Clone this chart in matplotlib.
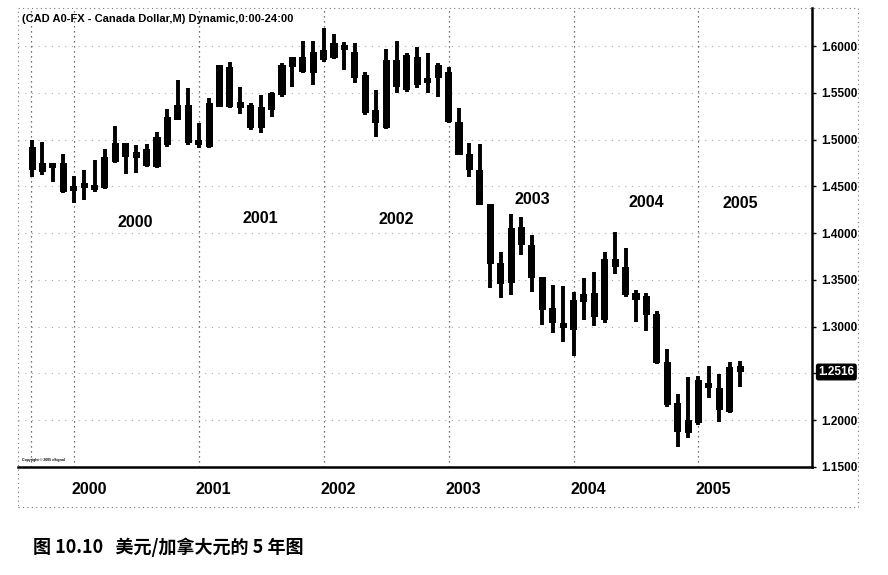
import matplotlib.pyplot as plt
from matplotlib.patches import Rectangle

# Monthly USD/CAD candles, Sep 1999 - May 2005
months = ['1999-09', '1999-10', '1999-11', '1999-12',
          '2000-01', '2000-02', '2000-03', '2000-04', '2000-05', '2000-06',
          '2000-07', '2000-08', '2000-09', '2000-10', '2000-11', '2000-12',
          '2001-01', '2001-02', '2001-03', '2001-04', '2001-05', '2001-06',
          '2001-07', '2001-08', '2001-09', '2001-10', '2001-11', '2001-12',
          '2002-01', '2002-02', '2002-03', '2002-04', '2002-05', '2002-06',
          '2002-07', '2002-08', '2002-09', '2002-10', '2002-11', '2002-12',
          '2003-01', '2003-02', '2003-03', '2003-04', '2003-05', '2003-06',
          '2003-07', '2003-08', '2003-09', '2003-10', '2003-11', '2003-12',
          '2004-01', '2004-02', '2004-03', '2004-04', '2004-05', '2004-06',
          '2004-07', '2004-08', '2004-09', '2004-10', '2004-11', '2004-12',
          '2005-01', '2005-02', '2005-03', '2005-04', '2005-05']
highs = [1.4997, 1.4976, 1.4751, 1.4848, 1.4612, 1.4676, 1.4783, 1.4901, 1.5147, 1.4965,
         1.4944, 1.4954, 1.5083, 1.5329, 1.5639, 1.5553, 1.5179, 1.5446, 1.5799, 1.5831,
         1.5564, 1.5393, 1.5479, 1.5511, 1.5821, 1.5885, 1.6056, 1.6056, 1.6195, 1.6131,
         1.6045, 1.6035, 1.5725, 1.5532, 1.5971, 1.6056, 1.5928, 1.5992, 1.5928, 1.5821,
         1.5778, 1.5339, 1.4965, 1.4954, 1.4313, 1.3799, 1.4206, 1.4174, 1.3981, 1.3532,
         1.3446, 1.3436, 1.3372, 1.3521, 1.3586, 1.3799, 1.4013, 1.3842, 1.3393, 1.3361,
         1.3168, 1.2762, 1.2281, 1.2463, 1.2473, 1.2580, 1.2495, 1.2623, 1.2634]
lows = [1.4602, 1.4623, 1.4548, 1.4430, 1.4323, 1.4356, 1.4441, 1.4473, 1.4751, 1.4634,
        1.4644, 1.4709, 1.4698, 1.4922, 1.5211, 1.4944, 1.4912, 1.4912, 1.5350, 1.5339,
        1.5275, 1.5104, 1.5072, 1.5243, 1.5457, 1.5564, 1.5714, 1.5585, 1.5831, 1.5864,
        1.5746, 1.5607, 1.5265, 1.5029, 1.5115, 1.5500, 1.5511, 1.5553, 1.5500, 1.5457,
        1.5179, 1.4837, 1.4602, 1.4302, 1.3414, 1.3307, 1.3340, 1.3767, 1.3372, 1.3019,
        1.2933, 1.2837, 1.2687, 1.3072, 1.3008, 1.3040, 1.3564, 1.3318, 1.3051, 1.2955,
        1.2602, 1.2142, 1.1714, 1.1810, 1.1949, 1.2238, 1.1981, 1.2078, 1.2356]
body_top = [1.4922, 1.4751, 1.4751, 1.4751, 1.4505, 1.4537, 1.4495, 1.4815, 1.4965, 1.4965,
            1.4869, 1.4901, 1.5029, 1.5243, 1.5372, 1.5372, 1.4997, 1.5393, 1.5799, 1.5778,
            1.5404, 1.5372, 1.5350, 1.5500, 1.5799, 1.5885, 1.5885, 1.5938, 1.5960, 1.6035,
            1.6013, 1.5938, 1.5692, 1.5318, 1.5853, 1.5853, 1.5906, 1.5885, 1.5639, 1.5799,
            1.5725, 1.5190, 1.4848, 1.4676, 1.4313, 1.3682, 1.4056, 1.4067, 1.3874, 1.3532,
            1.3200, 1.3019, 1.3286, 1.3350, 1.3361, 1.3725, 1.3725, 1.3639, 1.3361, 1.3329,
            1.3136, 1.2623, 1.2184, 1.2003, 1.2430, 1.2398, 1.2345, 1.2570, 1.2580]
body_bot = [1.4676, 1.4655, 1.4698, 1.4441, 1.4452, 1.4484, 1.4463, 1.4484, 1.4762, 1.4815,
            1.4805, 1.4719, 1.4709, 1.4944, 1.5211, 1.4965, 1.4944, 1.4922, 1.5350, 1.5350,
            1.5339, 1.5126, 1.5126, 1.5318, 1.5479, 1.5778, 1.5725, 1.5714, 1.5853, 1.5874,
            1.5960, 1.5660, 1.5286, 1.5179, 1.5126, 1.5564, 1.5532, 1.5585, 1.5607, 1.5660,
            1.5190, 1.4837, 1.4676, 1.4302, 1.3671, 1.3457, 1.3468, 1.3874, 1.3521, 1.3179,
            1.3040, 1.2987, 1.2965, 1.3265, 1.3104, 1.3072, 1.3639, 1.3340, 1.3286, 1.3126,
            1.2612, 1.2163, 1.1874, 1.1864, 1.1971, 1.2345, 1.2110, 1.2088, 1.2516]
last_price = 1.2516
years = ['2000', '2001', '2002', '2003', '2004', '2005']
year_start = [4, 16, 28, 40, 52, 64]          # index of each January
price_ticks = [1.15, 1.20, 1.25, 1.30, 1.35, 1.40, 1.45, 1.50, 1.55, 1.60]

plt.rcParams['font.family'] = ['Liberation Sans', 'DejaVu Sans']

fig = plt.figure(figsize=(8.88, 5.75), dpi=100)
ax = fig.add_axes([18 / 888, 1 - 467 / 575, (812 - 18) / 888, (467 - 8) / 575])

x = list(range(len(months)))
ax.vlines(x, lows, highs, color='black', lw=2.8)
heights = [max(t - b, 0.005) for t, b in zip(body_top, body_bot)]
ax.bar(x, heights, bottom=body_bot, width=0.68, color='black')

ax.set_xlim(-1.35, 74.9)
ax.set_ylim(1.15, 1.6409)

# grid
for p in price_ticks[1:]:
    ax.axhline(p, color='#aaaaaa', lw=0.8, ls=(0, (1, 5)), zorder=0)
for xs in [-0.1] + year_start:
    ax.axvline(xs, color='#444444', lw=0.9, ls=(0, (1, 3)), zorder=0)

ax.yaxis.tick_right()
ax.set_yticks(price_ticks)
# the 1.2500 label is covered by the last-price box
ax.set_yticklabels(['' if p == 1.25 else f'{p:.4f}' for p in price_ticks],
                   fontsize=8.5, fontweight='bold')
ax.tick_params(axis='y', length=3, width=1, pad=4)
ax.set_xticks([])
for s in ['top', 'left']:
    ax.spines[s].set_visible(False)
ax.spines['right'].set_linewidth(1.8)
ax.spines['bottom'].set_linewidth(1.8)

# current price marker
ax.text(1.008, (last_price - 1.15) / (1.6409 - 1.15), f'{last_price:.4f}',
        transform=ax.transAxes, fontsize=8.5, fontweight='bold', color='white',
        va='center', ha='left',
        bbox=dict(boxstyle='round,pad=0.15', fc='black', ec='black'))

ax.text(0.005, 0.988, '(CAD A0-FX - Canada Dollar,M) Dynamic,0:00-24:00',
        transform=ax.transAxes, fontsize=8, fontweight='bold', va='top')
ax.text(0.005, 0.012, 'Copyright © 2005 eSignal', transform=ax.transAxes,
        fontsize=2.5, fontweight='bold')

# year labels inside the chart
inner_pos = [(9.9, 1.412), (21.9, 1.4163), (35.0, 1.4142),
             (48.0, 1.4366), (59.0, 1.4334), (68.0, 1.4323)]
for yr, (xp, yp) in zip(years, inner_pos):
    ax.text(xp, yp, yr, fontsize=11.5, fontweight='bold', ha='center', va='center')

# year labels below the chart
for yr, xs in zip(years, year_start):
    ax.text(xs + 1.45, 1.15 - 0.0245, yr, fontsize=11.5, fontweight='bold',
            ha='center', va='center', clip_on=False)

# dotted frame around the whole chart panel
fig.patches.append(Rectangle((18 / 888, 1 - 507 / 575), (858 - 18) / 888, (507 - 8) / 575,
                             transform=fig.transFigure, fill=False, ec='#777777',
                             lw=0.8, ls=(0, (1, 3))))

fig.text(33 / 888, 1 - 547 / 575, '图 10.10   美元/加拿大元的 5 年图',
         family=['Noto Sans CJK SC', 'DejaVu Sans'], fontsize=13, fontweight='bold',
         va='center')

fig.savefig('out.png', dpi=100)
